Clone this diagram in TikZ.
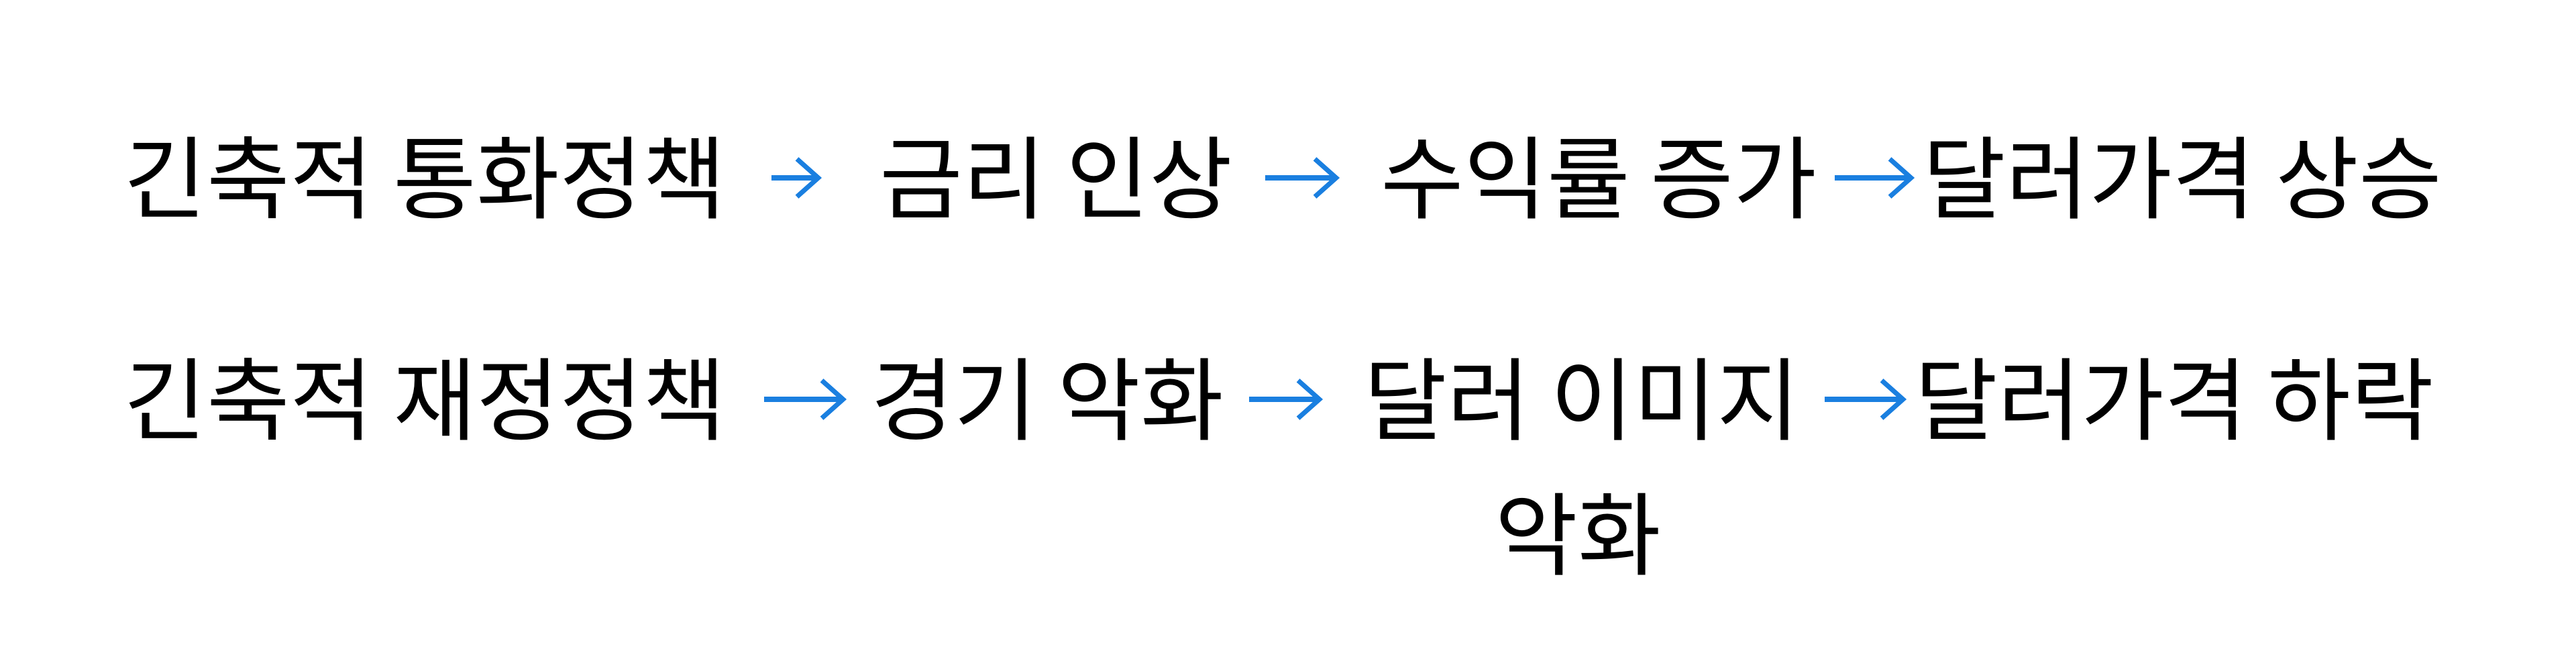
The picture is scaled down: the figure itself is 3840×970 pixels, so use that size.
\documentclass[tikz,border=0pt]{standalone}
\usepackage{fontspec}
\newfontfamily\cjk{Noto Sans CJK KR}
\usetikzlibrary{arrows.meta}
\begin{document}
\begin{tikzpicture}[x=0.01cm,y=-0.01cm,
  lbl/.style={font=\cjk\fontsize{38.3}{46}\selectfont, inner sep=0pt, anchor=west, text=black},
  arr/.style={draw={rgb,255:red,26;green,127;blue,224}, line width=2pt, -{Straight Barb[length=9pt,width=16pt]}}]
\useasboundingbox (0,0) rectangle (3840,970);
\node[lbl] (a1) at (184,265) {긴축적 통화정책};
\node[lbl] (a2) at (1311,265) {금리 인상};
\node[lbl] (a3) at (2058,265) {수익률 증가};
\node[lbl] (a4) at (2866,265) {달러가격 상승};
\coordinate (p1s) at (1150,265); \coordinate (p1e) at (1225,265);
\coordinate (p2s) at (1886,265); \coordinate (p2e) at (1997,265);
\coordinate (p3s) at (2735,265); \coordinate (p3e) at (2854,265);
\draw[arr] (p1s) -- (p1e);
\draw[arr] (p2s) -- (p2e);
\draw[arr] (p3s) -- (p3e);
\node[lbl] (b1) at (184,595) {긴축적 재정정책};
\node[lbl] (b2) at (1298,595) {경기 악화};
\node[lbl] (b3) at (2033,595) {달러 이미지};
\node[lbl,anchor=center] (b3b) at (2352,796) {악화};
\node[lbl] (b4) at (2854,595) {달러가격 하락};
\coordinate (q1s) at (1139,595); \coordinate (q1e) at (1262,595);
\coordinate (q2s) at (1862,595); \coordinate (q2e) at (1972,595);
\coordinate (q3s) at (2720,595); \coordinate (q3e) at (2842,595);
\draw[arr] (q1s) -- (q1e);
\draw[arr] (q2s) -- (q2e);
\draw[arr] (q3s) -- (q3e);
\end{tikzpicture}
\end{document}
